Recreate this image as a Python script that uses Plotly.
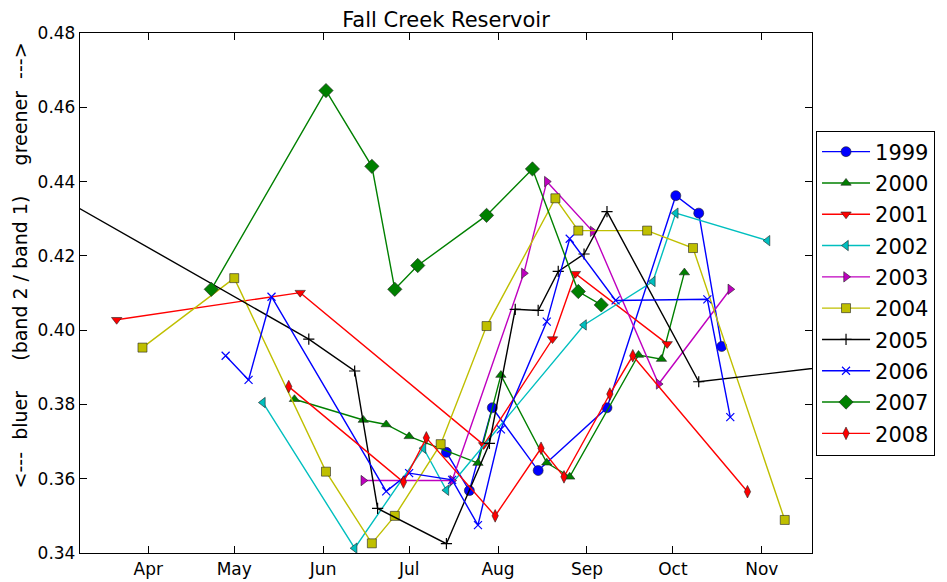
import datetime as dt
import plotly.graph_objects as go

# day of year (plotted on a common year) and band ratio values
doy_1999 = [195, 203, 211, 227, 251, 275, 283, 291]
val_1999 = [0.3671, 0.3568, 0.3791, 0.3622, 0.3791, 0.4362, 0.4315, 0.3956]

doy_2000 = [142, 166, 174, 182, 206, 214, 230, 238, 262, 270, 278]
val_2000 = [0.3814, 0.3758, 0.3746, 0.3714, 0.3642, 0.3879, 0.3643, 0.3605, 0.3933, 0.3922, 0.4155]

doy_2001 = [80, 144, 208, 232, 240, 272]
val_2001 = [0.4028, 0.4101, 0.3691, 0.3976, 0.4152, 0.3963]

doy_2002 = [131, 163, 187, 195, 243, 267, 275, 307]
val_2002 = [0.3805, 0.3413, 0.3682, 0.3569, 0.4014, 0.4131, 0.4315, 0.4241]

doy_2003 = [166, 197, 222, 230, 246, 269, 294]
val_2003 = [0.3595, 0.3595, 0.4153, 0.4400, 0.4266, 0.3855, 0.4110]

doy_2004 = [89, 121, 153, 169, 177, 193, 209, 233, 241, 265, 281, 313]
val_2004 = [0.3953, 0.4140, 0.3619, 0.3426, 0.3500, 0.3693, 0.4011, 0.4355, 0.4268, 0.4268, 0.4221, 0.3489]

doy_2005 = [44, 147, 163, 171, 195, 210, 219, 227, 234, 243, 251, 283, 345]
val_2005 = [0.4429, 0.3976, 0.3890, 0.3520, 0.3425, 0.3695, 0.4056, 0.4053, 0.4158, 0.4205, 0.4319, 0.3861, 0.3917]

doy_2006 = [118, 126, 134, 174, 182, 197, 206, 214, 230, 238, 254, 286, 294]
val_2006 = [0.3931, 0.3866, 0.4090, 0.3566, 0.3615, 0.3597, 0.3475, 0.3733, 0.4023, 0.4246, 0.4080, 0.4083, 0.3766]

doy_2007 = [113, 153, 169, 177, 185, 209, 225, 241, 249]
val_2007 = [0.4110, 0.4645, 0.4441, 0.4110, 0.4174, 0.4309, 0.4434, 0.4104, 0.4068]

doy_2008 = [140, 180, 188, 212, 228, 236, 252, 260, 300]
val_2008 = [0.3848, 0.3591, 0.3710, 0.3500, 0.3682, 0.3605, 0.3828, 0.3931, 0.3565]

month_ticks = ["2001-04-01", "2001-05-01", "2001-06-01", "2001-07-01",
               "2001-08-01", "2001-09-01", "2001-10-01", "2001-11-01"]
month_labels = ["Apr", "May", "Jun", "Jul", "Aug", "Sep", "Oct", "Nov"]
y_ticks = [0.34, 0.36, 0.38, 0.40, 0.42, 0.44, 0.46, 0.48]


def to_dates(doys):
    base = dt.datetime(2001, 1, 1)
    return [base + dt.timedelta(days=d - 1) for d in doys]


# (name, days, values, color, symbol, size)
series = [
    ("1999", doy_1999, val_1999, "#0000FF", "circle", 10),
    ("2000", doy_2000, val_2000, "#008000", "triangle-up", 9),
    ("2001", doy_2001, val_2001, "#FF0000", "triangle-down", 9),
    ("2002", doy_2002, val_2002, "#00BFBF", "triangle-left", 9),
    ("2003", doy_2003, val_2003, "#BF00BF", "triangle-right", 9),
    ("2004", doy_2004, val_2004, "#BFBF00", "square", 9),
    ("2005", doy_2005, val_2005, "#000000", "cross-thin", 8),
    ("2006", doy_2006, val_2006, "#0000FF", "x-thin", 8),
    ("2007", doy_2007, val_2007, "#008000", "diamond", 11),
    ("2008", doy_2008, val_2008, "#FF0000", "diamond-tall", 9),
]

fig = go.Figure()
for name, days, vals, color, symbol, size in series:
    thin = symbol.endswith("-thin")
    fig.add_trace(go.Scatter(
        x=to_dates(days),
        y=vals,
        mode="lines+markers",
        name=name,
        legendgroup=name,
        line=dict(color=color, width=1.4),
        marker=dict(
            symbol=symbol, size=size, color=color,
            line=dict(color=color if thin else "#222222", width=1.2 if thin else 0.6),
        ),
    ))

axis_style = dict(
    showline=True, linecolor="black", linewidth=1.3, mirror="ticks",
    ticks="inside", ticklen=7, tickcolor="black", showgrid=False, zeroline=False,
    automargin=False,
    tickfont=dict(family="DejaVu Sans", size=17, color="black"),
)

# the page adds an 8px body margin, so the figure is 8px smaller than the window
fig.update_layout(
    width=939, height=574,
    margin=dict(l=72, r=135, t=25, b=29),
    paper_bgcolor="white", plot_bgcolor="white",
    font=dict(family="DejaVu Sans", color="black"),
    title=dict(text="Fall Creek Reservoir", xref="paper", x=0.5, xanchor="center",
               yref="container", y=0.979, yanchor="middle", font=dict(size=21)),
    xaxis=dict(type="date", range=["2001-03-08 05:00", "2001-11-18 12:00"],
               tickvals=month_ticks, ticktext=month_labels, **axis_style),
    yaxis=dict(range=[0.34, 0.48], tickvals=y_ticks, tickformat=".2f", **axis_style),
    legend=dict(x=1.0055, xanchor="left", y=0.5, yanchor="middle",
                bordercolor="black", borderwidth=1, bgcolor="white",
                font=dict(size=21), tracegroupgap=1, itemwidth=48),
    showlegend=True,
    annotations=[dict(
        text="<---  bluer     (band 2 / band 1)     greener  --->",
        xref="paper", yref="paper", x=-0.082, y=0.553,
        xanchor="center", yanchor="middle", textangle=-90,
        showarrow=False, font=dict(size=19),
    )],
)

fig.write_html("out.html")
